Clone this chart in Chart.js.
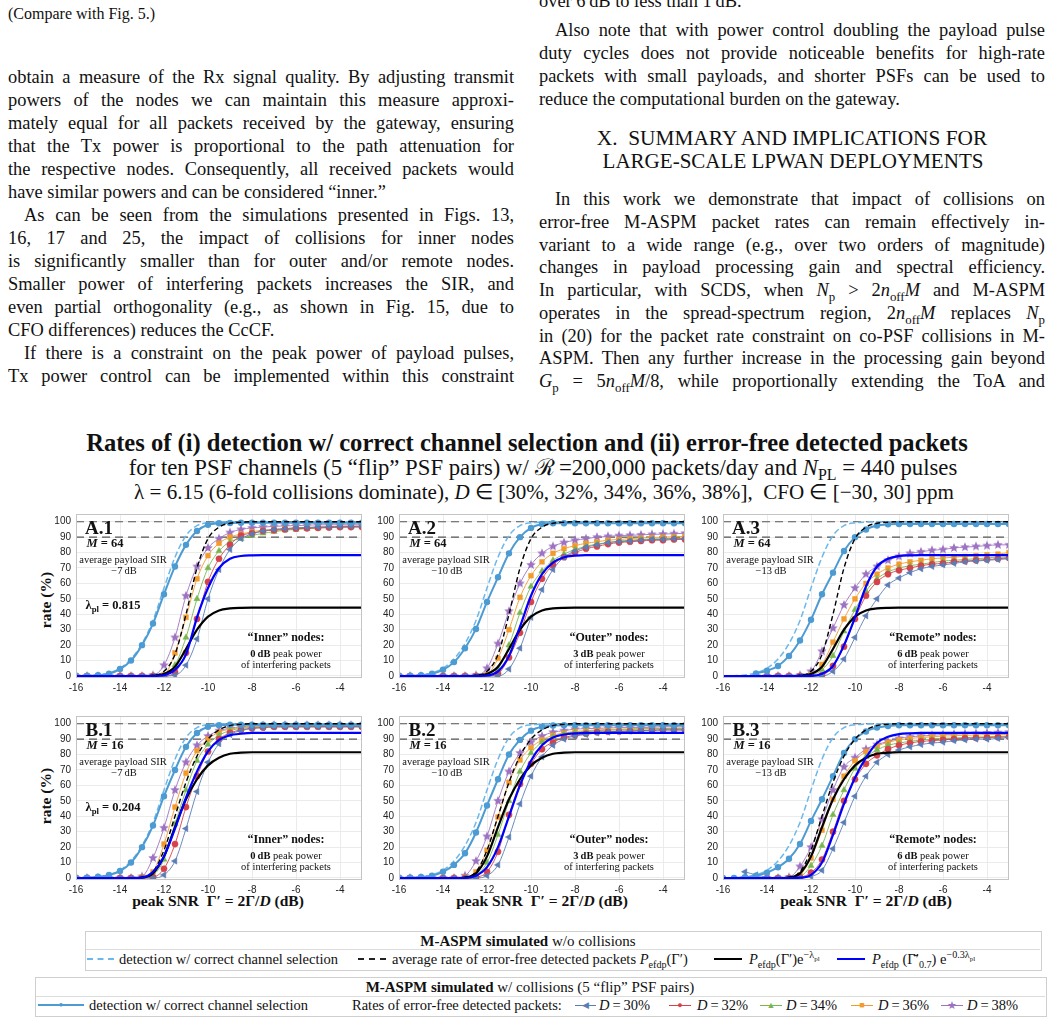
<!DOCTYPE html>
<html>
<head>
<meta charset="utf-8">
<script src="https://cdn.jsdelivr.net/npm/chart.js@4.4.0/dist/chart.umd.min.js"></script>
<style>
html,body{margin:0;padding:0;background:#fff;}
body{width:1053px;height:1021px;position:relative;overflow:hidden;font-family:"Liberation Serif","Times New Roman",serif;color:#111;}
.ln{position:absolute;width:506px;height:23px;line-height:23px;font-size:18.4px;white-space:nowrap;text-align:justify;text-align-last:justify;}
.ln.end{text-align-last:left;}
.ln.ind{text-indent:16px;}
.c{position:absolute;transform:translate(-50%,-50%);white-space:nowrap;line-height:1;}
.tl{position:absolute;white-space:nowrap;line-height:1;transform:translate(-50%,-50%);}
.pl{font-weight:bold;font-size:19px;}
.mm{font-weight:bold;font-size:12.5px;}
.sm{font-size:10.5px;}
.nd{font-weight:bold;font-size:12px;}
.ax{font-weight:bold;font-size:15.5px;}
.box{position:absolute;border:1px solid #cfcfcf;background:#fff;}
.sep{position:absolute;height:0;border-top:1px solid #dcdcdc;}
.lg{position:absolute;white-space:nowrap;font-size:14.5px;line-height:1;transform:translateY(-50%);}
.mk{position:absolute;white-space:nowrap;line-height:1;transform:translate(-50%,-50%);}
.smp{position:absolute;height:0;}
sub,sup{font-size:70%;line-height:0;}
</style>
</head>
<body>

<!-- paper text, left column -->
<div class="ln end" style="left:8px;top:2px;font-size:16px;">(Compare with Fig. 5.)</div>
<div class="ln" style="left:8px;top:65.5px;">obtain a measure of the Rx signal quality. By adjusting transmit</div>
<div class="ln" style="left:8px;top:88.5px;">powers of the nodes we can maintain this measure approxi-</div>
<div class="ln" style="left:8px;top:111.5px;">mately equal for all packets received by the gateway, ensuring</div>
<div class="ln" style="left:8px;top:134.5px;">that the Tx power is proportional to the path attenuation for</div>
<div class="ln" style="left:8px;top:157.5px;">the respective nodes. Consequently, all received packets would</div>
<div class="ln end" style="left:8px;top:180.5px;">have similar powers and can be considered “inner.”</div>
<div class="ln ind" style="left:8px;top:203.5px;">As can be seen from the simulations presented in Figs. 13,</div>
<div class="ln" style="left:8px;top:226.5px;">16, 17 and 25, the impact of collisions for inner nodes</div>
<div class="ln" style="left:8px;top:249.5px;">is significantly smaller than for outer and/or remote nodes.</div>
<div class="ln" style="left:8px;top:272.5px;">Smaller power of interfering packets increases the SIR, and</div>
<div class="ln" style="left:8px;top:295.5px;">even partial orthogonality (e.g., as shown in Fig. 15, due to</div>
<div class="ln end" style="left:8px;top:318.5px;">CFO differences) reduces the CcCF.</div>
<div class="ln ind" style="left:8px;top:341.5px;">If there is a constraint on the peak power of payload pulses,</div>
<div class="ln" style="left:8px;top:364.5px;">Tx power control can be implemented within this constraint</div>

<!-- paper text, right column -->
<div class="ln end" style="left:539px;top:-10px;">over 6&#8201;dB to less than 1&#8201;dB.</div>
<div class="ln ind" style="left:539px;top:19px;">Also note that with power control doubling the payload pulse</div>
<div class="ln" style="left:539px;top:42px;">duty cycles does not provide noticeable benefits for high-rate</div>
<div class="ln" style="left:539px;top:65px;">packets with small payloads, and shorter PSFs can be used to</div>
<div class="ln end" style="left:539px;top:88px;">reduce the computational burden on the gateway.</div>
<div class="tl fit" data-w="391" style="left:792px;top:139px;font-size:19px;">X.&nbsp; SUMMARY AND IMPLICATIONS FOR</div>
<div class="tl fit" data-w="381" style="left:793px;top:162px;font-size:19px;">LARGE-SCALE LPWAN DEPLOYMENTS</div>
<div class="ln ind" style="left:539px;top:188px;">In this work we demonstrate that impact of collisions on</div>
<div class="ln" style="left:539px;top:210.75px;">error-free M-ASPM packet rates can remain effectively in-</div>
<div class="ln" style="left:539px;top:233.5px;">variant to a wide range (e.g., over two orders of magnitude)</div>
<div class="ln" style="left:539px;top:256.25px;">changes in payload processing gain and spectral efficiency.</div>
<div class="ln" style="left:539px;top:279px;">In particular, with SCDS, when <i>N</i><sub>p</sub> &gt; 2<i>n</i><sub>off</sub><i>M</i> and M-ASPM</div>
<div class="ln" style="left:539px;top:301.75px;">operates in the spread-spectrum region, 2<i>n</i><sub>off</sub><i>M</i> replaces <i>N</i><sub>p</sub></div>
<div class="ln" style="left:539px;top:324.5px;">in (20) for the packet rate constraint on co-PSF collisions in M-</div>
<div class="ln" style="left:539px;top:347.25px;">ASPM. Then any further increase in the processing gain beyond</div>
<div class="ln" style="left:539px;top:370px;"><i>G</i><sub>p</sub> = 5<i>n</i><sub>off</sub><i>M</i>/8, while proportionally extending the ToA and</div>

<!-- figure title -->
<div class="tl fit" data-w="882" style="left:527px;top:443px;font-weight:bold;font-size:19px;">Rates of (i) detection w/ correct channel selection and (ii) error-free detected packets</div>
<div class="tl fit" data-w="830" style="left:543px;top:468px;font-size:18px;">for ten PSF channels (5 “flip” PSF pairs) w/ ℛ&#8201;=200,000 packets/day and <i>N</i><sub>PL</sub> = 440 pulses</div>
<div class="tl fit" data-w="822" style="left:544px;top:493px;font-size:18px;">λ = 6.15 (6-fold collisions dominate), <i>D</i> ∈ [30%, 32%, 34%, 36%, 38%],&nbsp; CFO ∈ [−30, 30] ppm</div>

<!-- legend: without collisions -->
<div class="box" style="left:85px;top:931px;width:955px;height:38px;"></div>
<div class="sep" style="left:86px;top:949px;width:954px;"></div>
<div class="c" style="left:528px;top:940.5px;font-size:15px;"><b>M-ASPM simulated</b> w/o collisions</div>
<div class="smp" style="left:87px;top:958px;width:27px;border-top:2px dashed #6cb8ec;"></div>
<div class="lg" style="left:119px;top:959px;">detection w/ correct channel selection</div>
<div class="smp" style="left:358px;top:958px;width:28px;border-top:2px dashed #222;"></div>
<div class="lg" style="left:392px;top:959px;">average rate of error-free detected packets <i>P</i><sub>efdp</sub>(Γ′)</div>
<div class="smp" style="left:714px;top:958px;width:28px;border-top:2.5px solid #000;"></div>
<div class="lg" style="left:749px;top:959px;"><i>P</i><sub>efdp</sub>(Γ′)e<sup>−λ<sub>pl</sub></sup></div>
<div class="smp" style="left:837px;top:958px;width:28px;border-top:2.5px solid #0000ff;"></div>
<div class="lg" style="left:872px;top:959px;"><i>P</i><sub>efdp</sub> (Γ̄′<sub>0.7</sub>) e<sup>−0.3λ<sub>pl</sub></sup></div>

<!-- legend: with collisions -->
<div class="box" style="left:35px;top:977px;width:1010px;height:38px;"></div>
<div class="sep" style="left:36px;top:996px;width:1009px;"></div>
<div class="c" style="left:530px;top:987px;font-size:15px;"><b>M-ASPM simulated</b> w/ collisions (5 “flip” PSF pairs)</div>
<div class="smp" style="left:38px;top:1004px;width:46px;border-top:2px solid #4d9bd3;"></div>
<div class="mk" style="left:61px;top:1005px;color:#4d9bd3;font-size:8px;">●</div>
<div class="lg" style="left:89px;top:1005px;">detection w/ correct channel selection</div>
<div class="lg" style="left:352px;top:1005px;">Rates of error-free detected packets:</div>
<div class="smp" style="left:575px;top:1004.5px;width:21px;border-top:1px solid #5a7db5;"></div>
<div class="mk" style="left:585px;top:1005px;color:#5a7db5;font-size:9px;">◀</div>
<div class="lg" style="left:599px;top:1005px;"><i>D</i>&#8201;=&#8201;30%</div>
<div class="smp" style="left:669px;top:1004.5px;width:22px;border-top:1px solid #d6424a;"></div>
<div class="mk" style="left:680px;top:1005px;color:#d6424a;font-size:9px;">●</div>
<div class="lg" style="left:697px;top:1005px;"><i>D</i>&#8201;=&#8201;32%</div>
<div class="smp" style="left:760px;top:1004.5px;width:22px;border-top:1px solid #7ab650;"></div>
<div class="mk" style="left:771px;top:1005px;color:#7ab650;font-size:9px;">▲</div>
<div class="lg" style="left:786px;top:1005px;"><i>D</i>&#8201;=&#8201;34%</div>
<div class="smp" style="left:851px;top:1004.5px;width:22px;border-top:1px solid #f39a2d;"></div>
<div class="mk" style="left:862px;top:1005px;color:#f39a2d;font-size:9px;">■</div>
<div class="lg" style="left:878px;top:1005px;"><i>D</i>&#8201;=&#8201;36%</div>
<div class="smp" style="left:941px;top:1004.5px;width:22px;border-top:1px solid #9e72c2;"></div>
<div class="mk" style="left:952px;top:1005px;color:#9e72c2;font-size:11px;">★</div>
<div class="lg" style="left:967px;top:1005px;"><i>D</i>&#8201;=&#8201;38%</div>

<!-- axis titles -->
<div class="c ax" style="left:46px;top:600px;transform:translate(-50%,-50%) rotate(-90deg);">rate (%)</div>
<div class="c ax" style="left:46px;top:796px;transform:translate(-50%,-50%) rotate(-90deg);">rate (%)</div>
<div class="c ax" style="left:218px;top:901px;">peak SNR&nbsp; Γ′ = 2Γ/<i>D</i> (dB)</div>
<div class="c ax" style="left:542px;top:901px;">peak SNR&nbsp; Γ′ = 2Γ/<i>D</i> (dB)</div>
<div class="c ax" style="left:866px;top:901px;">peak SNR&nbsp; Γ′ = 2Γ/<i>D</i> (dB)</div>

<script>
// x grid (dB) and axis ticks
const xs = [-16,-15.5,-15,-14.5,-14,-13.5,-13,-12.5,-12,-11.5,-11,-10.5,-10,-9.5,-9,-8.5,-8,-7.5,-7,-6.5,-6,-5.5,-5,-4.5,-4,-3.5,-3];
const xTicks = [-16,-14,-12,-10,-8,-6,-4];
const yTicks = [0,10,20,30,40,50,60,70,80,90,100];
const refLevels = [90, 100];

// w/o collisions (same curves in every panel of a row)
const detNoColl = [0,0.2,0.6,2,5,11,21,36,57,77,91,97.5,99.3,99.8,100,100,100,100,100,100,100,100,100,100,100,100,100];
const efdpA    = [0,0,0,0,0,0,0,0.5,3,14,40,70,89,96.5,99,99.7,100,100,100,100,100,100,100,100,100,100,100];
const efdpLamA = [0,0,0,0,0,0,0,0.2,1.3,6,17.5,30,38.5,42.5,43.8,44.2,44.3,44.3,44.3,44.3,44.3,44.3,44.3,44.3,44.3,44.3,44.3];
const efdpB    = [0,0,0,0,0,0,0.5,4,18,40,62,79,90,96,98.8,99.6,100,100,100,100,100,100,100,100,100,100,100];
const efdpLamB = [0,0,0,0,0,0,0.3,3,14,33,51,64,73,78,80.5,81.2,81.5,81.5,81.5,81.5,81.5,81.5,81.5,81.5,81.5,81.5,81.5];

// Pefdp(G'0.7) e^-0.3 lambda, per panel
const blueA1 = [0,0,0,0,0,0,0,0,0.5,4,14,38,57,70,76,77.8,78.2,78.3,78.3,78.3,78.3,78.3,78.3,78.3,78.3,78.3,78.3];
const blueA2 = [0,0,0,0,0,0,0,0,0.3,3,13,32,52,66,73.5,77,78,78.3,78.3,78.3,78.3,78.3,78.3,78.3,78.3,78.3,78.3];
const blueA3 = [0,0,0,0,0,0,0,0,0.1,1.5,6.5,20,38,58,71,76,77.8,78.2,78.3,78.3,78.3,78.3,78.3,78.3,78.3,78.3,78.3];
const blueB1 = [0,0,0,0,0,0,0.2,4,14,32,52,69,82,89.5,92.5,93.5,94,94,94,94,94,94,94,94,94,94,94];
const blueB2 = [0,0,0,0,0,0,0,1.5,7,20,40,60,76,86,91,93,93.8,94,94,94,94,94,94,94,94,94,94];
const blueB3 = [0,0,0,0,0,0,0,0.2,2,10,28,48,65,78,87.5,91.5,93.3,93.8,94,94,94,94,94,94,94,94,94];

// detection w/ correct channel selection, w/ collisions
const detA1 = [0,0,0.5,1.5,4.5,10,20,34,53,71,85,94,98,99,99.2,99.3,99.3,99.3,99.3,99.3,99.3,99.3,99.3,99.3,99.3,99.3,99.3];
const detA2 = [0,0,0.5,1.5,4,9,18,30.5,48,64,79.5,90,96,98.5,99,99,99,99,99,99,99,99,99,99,99,99,99];
const detA3 = [null,null,null,1.7,3.4,6.5,13,23,36.5,53,67,81,90,95,97.5,98.3,98.5,98.5,98.5,98.5,98.5,98.5,98.5,98.5,98.5,98.5,98.5];
const detB1 = [0,0.2,0.8,2,4.5,10,20,34,53,70,85,94,98,99,99.3,99.3,99.3,99.3,99.3,99.3,99.3,99.3,99.3,99.3,99.3,99.3,99.3];
const detB2 = [0,0.2,0.7,1.5,4,8.5,16,29.5,47,64,80,89.5,95.5,98,98.8,99,99,99,99,99,99,99,99,99,99,99,99];
const detB3 = [0,0,0.5,1.5,3.5,7,12.5,22,37,51,66,81,90,95,97.5,98.5,99,99,99,99,99,99,99,99,99,99,99];

// error-free detected packets, D = 30..38 %
const a1D30 = [0,0,0,0,0,0,0,0,0,0.5,7,24,50,69,82,89,92,94,95,95.5,96,96.3,96.5,96.7,97,97,97];
const a1D32 = [0,0,0,0,0,0,0,0,0,2.5,15,37,61,76,85,91,92.5,94,94.5,95,95.5,95.7,96,96.2,96.5,96.5,96.5];
const a1D34 = [0,0,0,0,0,0,0,0,0.5,7,25,50,70,81,87,89,91,92.5,93.5,94.5,95,95.5,96,96.3,96.5,96.7,97];
const a1D36 = [0,0,0,0,0,0,0,0,0.8,15,38,63,78,86,90,92,93.5,94.5,95,95.5,96,96.3,96.5,96.8,97,97,97.2];
const a1D38 = [0,0,0,0,0,0,0,0.5,7,25,52,71,83,89,93,95,96,96.5,97,97.3,97.5,97.7,98,98,98,98,98];

const a2D30 = [0,0,0,0,0,0,0,0,0,0,4.5,18,38,56,69,77,81,83.5,85,86.5,87,87.5,88,88.5,88.5,89,89];
const a2D32 = [0,0,0,0,0,0,0,0,0,1.5,12,28,48,63,72,77,80,82.5,84,85.5,86.5,87,87.5,88,88,88.5,88.5];
const a2D34 = [0,0,0,0,0,0,0,0,0.5,4.5,20,41,58,68,75,79,82,84,85.5,86.5,87.5,88,88.5,88.8,89,89.3,89.5];
const a2D36 = [0,0,0,0,0,0,0,0,1,11.5,30,51,65,74,79.5,82.5,84.5,86,87,88,88.5,89,89.5,89.8,90,90.3,90.5];
const a2D38 = [0,0,0,0,0,0,0,0.5,5,21,42,60,72,79.5,84,86.5,88,89,90,90.5,91,91.2,91.5,91.8,92,92.2,92.5];

const a3D30 = [null,null,null,0,0,0,0,0,0,0,3,11,25,39,50,59,63.5,67,69.5,71,72,73,74,74.5,75,75.5,76];
const a3D32 = [null,null,null,0,0,0,0,0,0,0.5,6.5,19,37,52,61,66,68.5,70,71.5,72.5,73,74,74.5,75,75.5,76,76.5];
const a3D34 = [null,null,null,0,0,0,0,0,0.5,4,13,29,43,55,63,67.5,70,71.5,72.5,73.5,74.5,75,75.5,76,76.5,77,77];
const a3D36 = [null,null,null,0,0,0,0,0,1,7.5,22,37,50,60,66,70,72.5,74,75,76,76.5,77,77.5,78,78.5,79,80];
const a3D38 = [null,null,null,0,0,0,0,0.5,3,16,31,46,57,66,71,75,77.5,79.5,80.5,81.5,82,83,83.5,84,84.5,85,85];

const b1D30 = [0,0,0,0,0,0,0,0,2,11,32,56,75,87,93,95.5,97,97.5,98,98,98,98,98,98,98,98,98];
const b1D32 = [0,0,0,0,0,0,0,0.5,6,22,46,66,82,90,94,96,97,97.5,98,98,98,98,98,98,98,98,98];
const b1D34 = [0,0,0,0,0,0,0.3,2,12,35,57,76,86.5,92.5,95.5,97,97.5,98,98,98.2,98.3,98.3,98.3,98.3,98.3,98.3,98.3];
const b1D36 = [0,0,0,0,0,0,0.5,4,22,46,68,82.5,90,94.5,96.5,97.5,98,98.3,98.5,98.5,98.5,98.5,98.5,98.5,98.5,98.5,98.5];
const b1D38 = [0,0,0,0,0,0,1,13,32.5,57,75,86,92,95.5,97,98,98.5,98.7,99,99,99,99,99,99,99,99,99];

const b2D30 = [0,0,0,0,0,0,0,0,1.5,8.5,26.5,48,66,78.5,86,90,92,93,94,94.5,95,95.2,95.5,95.7,96,96,96];
const b2D32 = [0,0,0,0,0,0,0,0.5,4,17,41,61,74,83.5,88,91,92.5,93.5,94.5,94.8,95,95.3,95.5,95.8,96,96,96];
const b2D34 = [0,0,0,0,0,0,0.3,2,10,28,50,69,81,88,91.5,93.5,94.5,95,95.5,95.8,96,96.2,96.5,96.7,96.8,97,97];
const b2D36 = [0,0,0,0,0,0,0.5,4,18,39.5,62,76.5,84.5,89.5,92.5,94,95,95.5,96,96.3,96.5,96.7,97,97,97,97,97];
const b2D38 = [0,0,0,0,0,0,1.5,11,27,50,69,81,88,92,94.5,95.5,96.5,96.8,97,97.2,97.5,97.5,97.5,97.7,98,98,98];

const b3D30 = [null,null,4,2,0.5,0,0,0,1,5,19,36,53,66,75,80,83,85,86.5,87.5,88,89,89.5,90,90,90.5,91];
const b3D32 = [null,null,0,0,0,0,0,0.5,3.5,12,30,50,64,74,79.5,83.5,86,87.5,88.5,89,89.5,90,90.5,90.8,91,91.3,91.5];
const b3D34 = [null,null,0,0,0,0,0,1,8,21,41,57,71,78.5,83,86,87.5,88.5,89.5,90,90.5,90.8,91,91.3,91.5,91.8,92];
const b3D36 = [null,null,0,0,0,0,0,2,13,31,51,66,76,82,85.5,88,89.5,90.5,91,91.5,92,92.2,92.5,92.7,93,93,93];
const b3D38 = [null,null,0,0,0,0,0.5,7.5,20,38,57,72,78,83.5,86.5,88.5,90.5,91.5,92,92.5,93,93.2,93.5,93.7,94,94.2,94.5];

// panel annotations
const panelInfo = [
  {name:'A.1', M:64, sir:'−7', lam:'0.815', nodes:'“Inner”', pw:'0'},
  {name:'A.2', M:64, sir:'−10', lam:null, nodes:'“Outer”', pw:'3'},
  {name:'A.3', M:64, sir:'−13', lam:null, nodes:'“Remote”', pw:'6'},
  {name:'B.1', M:16, sir:'−7', lam:'0.204', nodes:'“Inner”', pw:'0'},
  {name:'B.2', M:16, sir:'−10', lam:null, nodes:'“Outer”', pw:'3'},
  {name:'B.3', M:16, sir:'−13', lam:null, nodes:'“Remote”', pw:'6'}
];

const panels = [
  {L:76,  T:510, det:detA1, blue:blueA1, eff:efdpA, effL:efdpLamA, d:[a1D30,a1D32,a1D34,a1D36,a1D38]},
  {L:399, T:510, det:detA2, blue:blueA2, eff:efdpA, effL:efdpLamA, d:[a2D30,a2D32,a2D34,a2D36,a2D38]},
  {L:723, T:510, det:detA3, blue:blueA3, eff:efdpA, effL:efdpLamA, d:[a3D30,a3D32,a3D34,a3D36,a3D38]},
  {L:76,  T:712, det:detB1, blue:blueB1, eff:efdpB, effL:efdpLamB, d:[b1D30,b1D32,b1D34,b1D36,b1D38]},
  {L:399, T:712, det:detB2, blue:blueB2, eff:efdpB, effL:efdpLamB, d:[b2D30,b2D32,b2D34,b2D36,b2D38]},
  {L:723, T:712, det:detB3, blue:blueB3, eff:efdpB, effL:efdpLamB, d:[b3D30,b3D32,b3D34,b3D36,b3D38]}
];

const W = 288, H = 168, AX = 44, AXB = 22, PT = 2, PR = 4;
const dColors = ['#5a7db5', '#d6424a', '#7ab650', '#f39a2d', '#9e72c2'];

function starImg(color, r) {
  const c = document.createElement('canvas');
  c.width = c.height = 2 * r + 2;
  const g = c.getContext('2d');
  g.fillStyle = color;
  g.beginPath();
  for (let i = 0; i < 10; i++) {
    const a = -Math.PI / 2 + i * Math.PI / 5;
    const rr = i % 2 ? r * 0.45 : r;
    g.lineTo(r + 1 + rr * Math.cos(a), r + 1 + rr * Math.sin(a));
  }
  g.closePath();
  g.fill();
  return c;
}
const star = starImg('#9e72c2', 5);

const frame = {
  id: 'frame',
  afterDraw(chart) {
    const a = chart.chartArea, ctx = chart.ctx;
    ctx.save();
    ctx.strokeStyle = '#c4c4c4';
    ctx.lineWidth = 1;
    ctx.strokeRect(a.left + 0.5, a.top + 0.5, a.right - a.left - 1, a.bottom - a.top - 1);
    ctx.restore();
  }
};

Chart.defaults.font.family = '"Liberation Sans", Arial, sans-serif';
Chart.defaults.font.size = 10;
Chart.defaults.color = '#333';

const pts = arr => xs.map((x, i) => ({x: x, y: arr[i]}));

panels.forEach((p, k) => {
  const cv = document.createElement('canvas');
  cv.width = W + AX + PR;
  cv.height = H + PT + AXB;
  cv.style.cssText = `position:absolute;left:${p.L - AX}px;top:${p.T - PT}px;width:${cv.width}px;height:${cv.height}px;`;
  document.body.appendChild(cv);

  const markerSet = [
    {style: 'triangle', rot: -90, r: 3.6},
    {style: 'circle', rot: 0, r: 3.1},
    {style: 'triangle', rot: 0, r: 3.6},
    {style: 'rect', rot: 0, r: 3.4},
    {style: star, rot: 0, r: 5}
  ];

  const datasets = [
    {data: pts(p.blue), borderColor: '#0000ff', borderWidth: 2.2, pointRadius: 0},
    {data: pts(p.effL), borderColor: '#000', borderWidth: 2.2, pointRadius: 0},
    {data: pts(p.eff), borderColor: '#000', borderWidth: 1.4, borderDash: [5, 3], pointRadius: 0},
    {data: pts(p.det), borderColor: '#4d9bd3', borderWidth: 2, pointRadius: 2.2,
      pointBackgroundColor: '#4d9bd3', pointBorderColor: '#4d9bd3'}
  ];
  p.d.forEach((arr, j) => {
    const m = markerSet[j];
    datasets.push({data: pts(arr), borderColor: dColors[j], borderWidth: 0.9,
      pointStyle: m.style, rotation: m.rot, pointRadius: m.r,
      pointBackgroundColor: dColors[j], pointBorderColor: dColors[j], pointBorderWidth: 0.5});
  });
  datasets.push({data: pts(detNoColl), borderColor: '#6cb8ec', borderWidth: 1.5, borderDash: [6, 3], pointRadius: 0});
  refLevels.forEach(v => {
    datasets.push({data: [{x: xs[0], y: v}, {x: xs[xs.length - 1], y: v}],
      borderColor: '#555', borderWidth: 1.1, borderDash: [8, 5], pointRadius: 0});
  });

  new Chart(cv, {
    type: 'line',
    data: {datasets: datasets},
    plugins: [frame],
    options: {
      responsive: false,
      animation: false,
      devicePixelRatio: 1,
      layout: {padding: {left: 0, top: PT, right: PR, bottom: 0}},
      elements: {line: {cubicInterpolationMode: 'monotone', fill: false}},
      plugins: {legend: {display: false}, title: {display: false}, tooltip: {enabled: false}},
      scales: {
        x: {
          type: 'linear', min: -16, max: -3,
          afterBuildTicks: s => { s.ticks = xTicks.map(v => ({value: v})); },
          afterFit: s => { s.height = AXB; s.paddingLeft = 0; s.paddingRight = 0; },
          grid: {color: '#ebebeb', drawTicks: false},
          border: {display: false},
          ticks: {padding: 4, maxRotation: 0, color: '#222'}
        },
        y: {
          min: -1.3, max: 105,
          afterBuildTicks: s => { s.ticks = yTicks.map(v => ({value: v})); },
          afterFit: s => { s.width = AX; s.paddingTop = 0; s.paddingBottom = 0; },
          grid: {color: '#ebebeb', drawTicks: false},
          border: {display: false},
          ticks: {padding: 5, color: '#222'}
        }
      }
    }
  });

  // text inside the panel
  const info = panelInfo[k];
  const add = (html, cls, x, y) => {
    const d = document.createElement('div');
    d.className = 'c ' + cls;
    d.style.left = x + 'px';
    d.style.top = y + 'px';
    d.innerHTML = html;
    document.body.appendChild(d);
  };
  add(info.name, 'pl', p.L + 23, p.T + 17);
  add('<i>M</i> = ' + info.M, 'mm', p.L + 29, p.T + 33);
  add('average payload SIR', 'sm', p.L + 47, p.T + 50);
  add(info.sir + '&#8201;dB', 'sm', p.L + 48, p.T + 61);
  if (info.lam) add('λ<sub>pl</sub> = ' + info.lam, 'mm', p.L + 37, p.T + 95);
  add(info.nodes + ' nodes:', 'nd', p.L + 210, p.T + 127);
  add('<b>' + info.pw + '&#8201;dB</b> peak power', 'sm', p.L + 210, p.T + 144);
  add('of interfering packets', 'sm', p.L + 210, p.T + 155);
});

// fit title and heading lines to their widths
document.querySelectorAll('.fit').forEach(el => {
  const w = +el.dataset.w;
  const fs = parseFloat(el.style.fontSize);
  el.style.fontSize = (fs * w / el.offsetWidth) + 'px';
});
</script>
</body>
</html>
